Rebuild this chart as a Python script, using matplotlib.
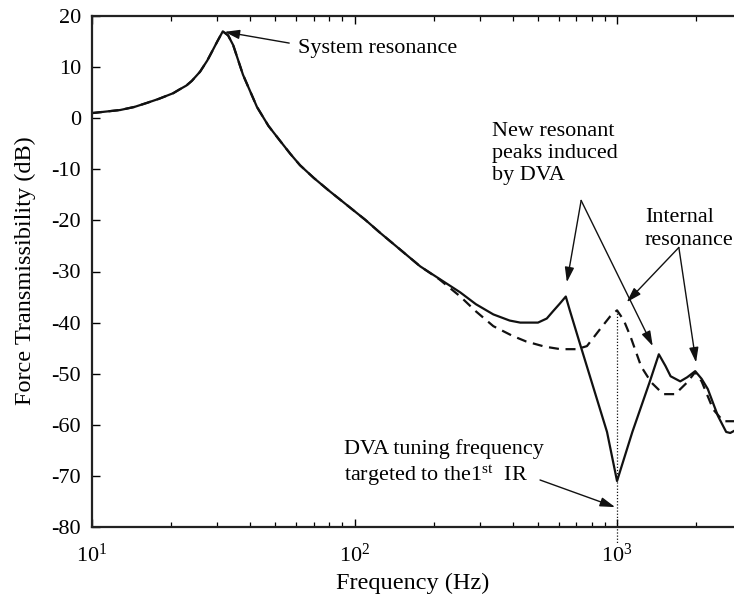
import matplotlib

matplotlib.use("Agg")
import matplotlib.pyplot as plt
import numpy as np
from matplotlib.ticker import FixedLocator, LogLocator, NullFormatter

# shared part of both curves (below ~200 Hz they coincide)
base_freq = [10.0, 12.8, 14.5, 16.2, 18.0, 20.4, 21.5, 22.9, 24.0, 25.8, 27.5, 28.9,
             30.0, 31.5, 33.0, 34.5, 37.6, 42.5, 47.0, 52.0, 57.0, 62.0, 70.0, 80.0,
             88.0, 110.0, 125.0, 150.0, 178.0]
base_db = [1.0, 1.6, 2.2, 3.0, 3.8, 4.9, 5.6, 6.4, 7.3, 9.1, 11.3, 13.4,
           15.0, 17.0, 16.2, 14.3, 8.5, 2.2, -1.5, -4.4, -7.0, -9.2, -11.7, -14.2,
           -15.9, -19.9, -22.4, -25.8, -29.0]

# with DVA (solid)
dva_freq = [210.0, 253.0, 290.0, 338.0, 390.0, 428.0, 500.0, 540.0, 570.0, 605.0,
            638.0, 660.0, 720.0, 916.0, 1000.0, 1144.0, 1330.0, 1443.0, 1530.0, 1600.0,
            1741.0, 1850.0, 1985.0, 2100.0, 2217.0, 2425.0, 2605.0, 2700.0, 2790.0]
dva_db = [-31.4, -34.1, -36.4, -38.4, -39.6, -40.0, -40.0, -39.2, -37.8, -36.3,
          -34.9, -37.5, -43.9, -61.4, -71.0, -61.4, -51.7, -46.2, -48.5, -50.5,
          -51.5, -50.7, -49.5, -51.0, -53.0, -58.3, -61.4, -61.6, -61.2]

# without DVA, internal resonance visible (dashed)
bare_freq = [210.0, 253.0, 290.0, 338.0, 400.0, 451.0, 530.0, 609.0, 703.0, 768.0,
             861.0, 941.0, 1000.0, 1060.0, 1125.0, 1236.0, 1350.0, 1500.0, 1665.0, 1850.0,
             1985.0, 2100.0, 2325.0, 2540.0, 2790.0]
bare_db = [-31.5, -34.9, -37.8, -40.7, -42.6, -43.7, -44.7, -45.2, -45.2, -44.6,
           -41.3, -38.8, -37.6, -39.5, -42.7, -48.6, -51.7, -54.0, -54.0, -51.7,
           -49.7, -51.5, -57.0, -59.3, -59.3]

y_ticks = [20, 10, 0, -10, -20, -30, -40, -50, -60, -70, -80]
x_ticks = [10, 100, 1000]
x_tick_labels = [r"$\mathregular{10^{1}}$", r"$\mathregular{10^{2}}$", r"$\mathregular{10^{3}}$"]

plt.rcParams["font.family"] = ["Liberation Serif", "DejaVu Serif"]
plt.rcParams["mathtext.fontset"] = "custom"
plt.rcParams["mathtext.rm"] = "Liberation Serif"
plt.rcParams["mathtext.it"] = "Liberation Serif:italic"
plt.rcParams["axes.unicode_minus"] = False

fig = plt.figure(figsize=(7.34, 6.01), dpi=100)
ax = fig.add_axes([92 / 734, 74 / 601, 642 / 734, 511 / 601])

ax.plot(base_freq + bare_freq, base_db + bare_db, color="#111111", lw=1.6,
        ls=(0, (4.5, 3)))
ax.plot(base_freq + dva_freq, base_db + dva_db, color="#111111", lw=1.6)

ax.set_xscale("log")
ax.set_xlim(10, 2790)
ax.set_ylim(-80, 20)

ax.spines["right"].set_visible(False)
for s in ["left", "bottom", "top"]:
    ax.spines[s].set_linewidth(1.6)
    ax.spines[s].set_color("#222222")

ax.xaxis.set_major_locator(FixedLocator(x_ticks))
ax.set_xticklabels(x_tick_labels)
ax.xaxis.set_minor_locator(LogLocator(base=10, subs=np.arange(2, 10)))
ax.xaxis.set_minor_formatter(NullFormatter())
ax.set_yticks(y_ticks)
ax.set_yticklabels([str(v) for v in y_ticks])

ax.tick_params(axis="x", which="major", direction="in", top=True, length=6, width=1.0,
               labelsize=16, pad=12)
ax.tick_params(axis="x", which="minor", direction="in", top=True, length=3.5, width=0.9)
ax.tick_params(axis="y", which="major", direction="in", right=False, length=6, width=1.0,
               labelsize=16, pad=8)

fig.text(413 / 734, 1 - 583 / 601, "Frequency (Hz)", ha="center", va="center", fontsize=17.5)
fig.text(25 / 734, 1 - 271 / 601, "Force Transmissibility (dB)", ha="center", va="center",
         rotation=90, fontsize=17.5)

arrow = dict(arrowstyle="-|>,head_length=0.9,head_width=0.28", color="#111111", lw=1.0,
             shrinkA=0, shrinkB=0)
fs = 15.9

ax.annotate("", xy=(32.0, 16.9), xytext=(56.4, 14.7), arrowprops=arrow)
ax.text(60.9, 13.6, "System resonance", ha="left", va="center", fontsize=fs)

ax.text(335, -6.9, "New resonant\npeaks induced\nby DVA", ha="left", va="center",
        fontsize=fs, linespacing=1.22)
ax.annotate("", xy=(644, -32.1), xytext=(730, -16.1), arrowprops=arrow)
ax.annotate("", xy=(1368, -44.6), xytext=(730, -16.1), arrowprops=arrow)

ax.text(1277, -21.7, "Internal\nresonance", ha="left", va="center", fontsize=fs,
        linespacing=1.28)
ax.annotate("", xy=(1089, -36.0), xytext=(1720, -25.3), arrowprops=arrow)
ax.annotate("", xy=(2000, -47.8), xytext=(1720, -25.3), arrowprops=arrow)

ax.text(91.2, -67.5, "DVA tuning frequency\ntargeted to the1$^{\\mathrm{st}}$  IR", ha="left",
        va="center", fontsize=fs, linespacing=1.25)
ax.annotate("", xy=(983, -76.1), xytext=(509, -70.8), arrowprops=arrow)

ax.plot([1000, 1000], [-37.6, -83.3], color="#111111", lw=0.9, ls=(0, (1, 1.5)),
        clip_on=False)

fig.savefig("out.png", dpi=100)
